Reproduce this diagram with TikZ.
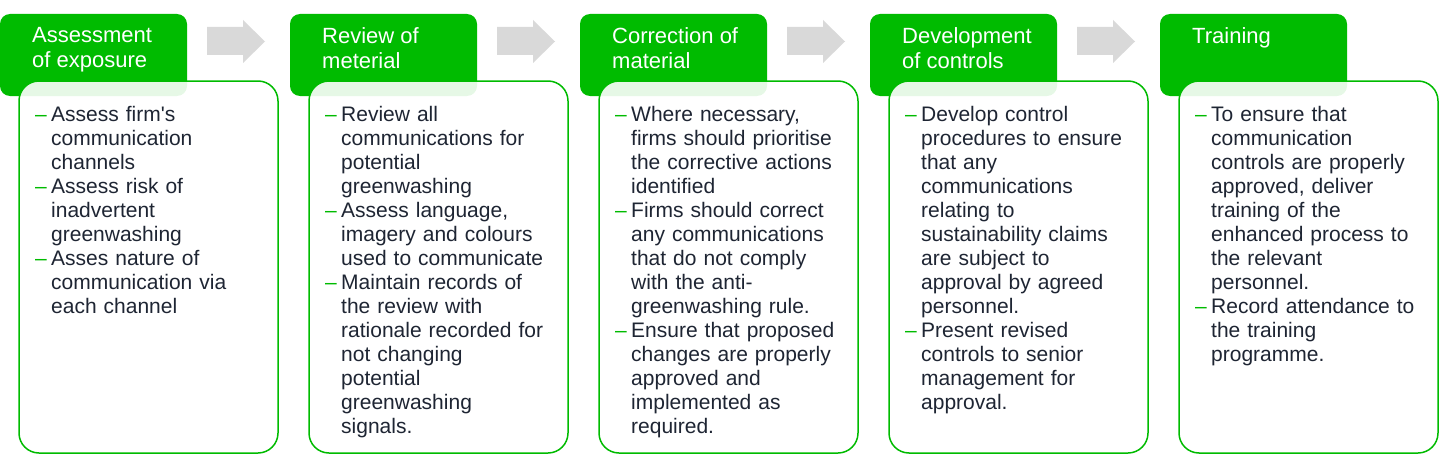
\documentclass[tikz,border=0pt]{standalone}
\usepackage{fontspec}
\setmainfont{Liberation Sans}
\definecolor{g}{HTML}{00BB00}
\definecolor{tx}{HTML}{1E2533}
\definecolor{ar}{HTML}{D9D9D9}
\newcommand\gitem[1]{\par\hangindent=16pt\hangafter=1\noindent\makebox[16pt][l]{\textcolor{g}{--}}#1\par}
\tikzset{
 hdr/.style={fill=g,rounded corners=10pt},
 bodybox/.style={draw=g,line width=1.5pt,fill=white,fill opacity=0.9,rounded corners=20pt},
 htext/.style={anchor=north west,text=white,font=\fontsize{22pt}{25pt}\selectfont,align=left,inner sep=0pt},
 btext/.style={anchor=north west,text=tx,font=\fontsize{21pt}{24pt}\selectfont,text width=250pt,inner sep=0pt,text opacity=1},
 arrowshape/.style={fill=ar}
}
\begin{document}
\begin{tikzpicture}[x=1pt,y=-1pt]
\useasboundingbox (0,0) rectangle (1440,460);
\foreach \i/\h/\b in {
0/{Assessment\\of exposure}/{\gitem{Assess firm\textquotesingle s\newline communication\newline channels}\gitem{Assess risk of\newline inadvertent\newline greenwashing}\gitem{Asses nature of\newline communication via\newline each channel}},
1/{Review of\\meterial}/{\gitem{Review all\newline communications for\newline potential\newline greenwashing}\gitem{Assess language,\newline imagery and colours\newline used to communicate}\gitem{Maintain records of\newline the review with\newline rationale recorded for\newline not changing\newline potential\newline greenwashing\newline signals.}},
2/{Correction of\\material}/{\gitem{Where necessary,\newline firms should prioritise\newline the corrective actions\newline identified}\gitem{Firms should correct\newline any communications\newline that do not comply\newline with the anti-\newline greenwashing rule.}\gitem{Ensure that proposed\newline changes are properly\newline approved and\newline implemented as\newline required.}},
3/{Development\\of controls}/{\gitem{Develop control\newline procedures to ensure\newline that any\newline communications\newline relating to\newline sustainability claims\newline are subject to\newline approval by agreed\newline personnel.}\gitem{Present revised\newline controls to senior\newline management for\newline approval.}},
4/{Training}/{\gitem{To ensure that\newline communication\newline controls are properly\newline approved, deliver\newline training of the\newline enhanced process to\newline the relevant\newline personnel.}\gitem{Record attendance to\newline the training\newline programme.}}}{
 \pgfmathsetmacro\ox{290*\i}
 \fill[hdr] (\ox,14) rectangle ++(187,82);
 \node[htext] (h\i) at (\ox+32,27) {\h};
 \draw[bodybox] (\ox+19,81) rectangle ++(259,372);
 \node[btext] (b\i) at (\ox+35,97) {\raggedright\b};
}
\foreach \i in {0,1,2,3}{
 \pgfmathsetmacro\ax{290*\i+207}
 \fill[arrowshape] (\ax,27) -- (\ax+36,27) -- (\ax+36,20) -- (\ax+58,41.5) -- (\ax+36,63) -- (\ax+36,55) -- (\ax,55) -- cycle;
}
\end{tikzpicture}
\end{document}
